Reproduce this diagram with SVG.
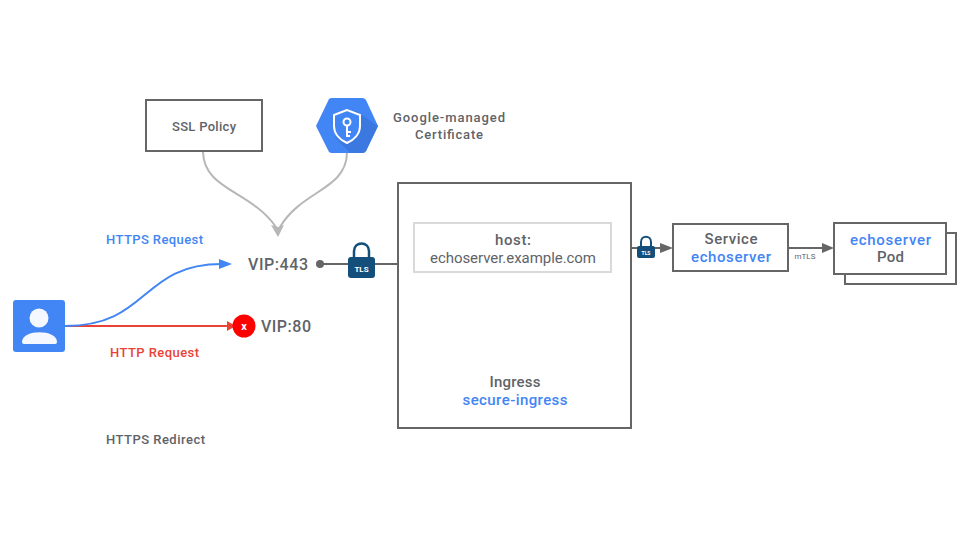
<svg xmlns="http://www.w3.org/2000/svg" width="960" height="540" viewBox="0 0 960 540">
<style>
text{font-family:Roboto,"Liberation Sans",sans-serif;font-weight:500;fill:#5f6368;text-anchor:middle}
.b{fill:#4285f4}.r{fill:#ea4335}
.s{font-size:13px}.m{font-size:15px}.l{font-size:16px}
.box{fill:#fff;stroke:#666;stroke-width:2}
.line{fill:none;stroke:#666;stroke-width:2}
.gray{fill:none;stroke:#b7b7b7;stroke-width:2}
.lock{fill:#134f7a}
.shackle{fill:none;stroke:#134f7a}
.lt{fill:#fff;font-weight:700}
</style>
<rect width="960" height="540" fill="#fff"/>
<g id="connectors">
<path class="gray" d="M203 152C204 190 250 190 276 227"/>
<path class="gray" d="M347 153C346 190 302 190 280 227"/>
<path d="M271 225L278 237L284 225L278 227Z" fill="#b7b7b7"/>
<path d="M65 326L228 326" fill="none" stroke="#ea4335" stroke-width="2"/>
<path d="M227 321L234 325L234 327L227 331Z" fill="#ea4335"/>
<path d="M65 326C150 326 140 264 222 264" fill="none" stroke="#4285f4" stroke-width="2"/>
<path d="M219 259L232 264L219 269Z" fill="#4285f4"/>
<path class="line" d="M320 264L398 264"/>
<circle cx="320" cy="264" r="4" fill="#666"/>
<path class="line" d="M631 248L663 248"/>
<path d="M660 243L673 248L660 253Z" fill="#666"/>
<path class="line" d="M789 248L825 248"/>
<path d="M822 243L834 248L822 253Z" fill="#666"/>
</g>
<g id="ssl-policy"><rect class="box" x="146" y="100" width="116" height="51"/><text x="204" y="131" class="s" textLength="64">SSL Policy</text></g>
<g id="certificate">
<path d="M316 126L329 99Q330 98 332 98H362Q365 98 366 100L378 126L366 151Q365 153 362 153H332Q330 153 329 152Z" fill="#4285f4"/>
<path d="M356 111L378 126L366 151Q365 153 362 153H350L335 137Z" fill="#3b78e0"/>
<path d="M347 110L334 115V126C334 134 340 140 347 143C354 140 360 134 360 126V115Z" fill="#4285f4" stroke="#fff" stroke-width="2"/>
<circle cx="347" cy="122" r="3.500" fill="none" stroke="#fff" stroke-width="2"/>
<path d="M347 125V137M347 132H351M347 136H350" fill="none" stroke="#fff" stroke-width="2"/>
<text x="449" y="122" class="s" textLength="112">Google-managed</text><text x="449" y="139" class="s" textLength="68">Certificate</text>
</g>
<g id="ingress"><rect class="box" x="398" y="183" width="233" height="245"/><text x="515" y="387" class="m" textLength="51">Ingress</text><text x="515" y="405" class="m b" textLength="105">secure-ingress</text></g>
<g id="host"><rect x="414" y="223" width="197" height="49" fill="#fff" stroke="#d9d9d9" stroke-width="2"/><text x="513" y="245" class="m" textLength="36">host:</text><text x="513" y="263" class="m" style="font-weight:400" textLength="166">echoserver.example.com</text></g>
<g id="lock-1"><path class="shackle" stroke-width="2.500" d="M354 258V251C354 241 369 241 369 251V258"/><rect class="lock" x="348" y="257" width="27" height="21" rx="3"/><text class="lt" x="361.500" y="271.500" font-size="8">TLS</text></g>
<g id="lock-2"><path class="shackle" stroke-width="2" d="M641 247V242C641 235 651 235 651 242V247"/><rect class="lock" x="637" y="246" width="18" height="12" rx="2"/><text class="lt" x="646" y="254.500" font-size="5">TLS</text></g>
<g id="service"><rect class="box" x="673" y="224" width="115" height="47"/><text x="731" y="244" class="m" textLength="53">Service</text><text x="731" y="262" class="m b" textLength="80">echoserver</text></g>
<g id="pod"><rect class="box" x="845" y="233" width="111" height="51"/><rect class="box" x="834" y="223" width="112" height="51"/><text x="890.500" y="245" class="m b" textLength="81">echoserver</text><text x="890.500" y="262" class="m" textLength="27">Pod</text></g>
<g id="user">
<rect x="13" y="300" width="52" height="52" rx="3" fill="#4285f4"/>
<circle cx="39" cy="318" r="9.500" fill="#fff" opacity=".95"/>
<path d="M22 342C22 329 57 329 57 342Q57 344 55 344H24Q22 344 22 342Z" fill="#fff" opacity=".95"/>
</g>
<g id="vip-80"><circle cx="244" cy="326" r="11.500" fill="#f00"/><text x="244" y="330" font-size="11" style="fill:#fff;font-weight:700">x</text><text x="286" y="332" class="l" textLength="50">VIP:80</text></g>
<g id="vip-443"><text x="278" y="270" class="l" textLength="60">VIP:443</text></g>
<text x="154.500" y="244" class="s b" textLength="97">HTTPS Request</text>
<text x="154.500" y="357" class="s r" textLength="89">HTTP Request</text>
<text x="155.500" y="444" class="s" textLength="99">HTTPS Redirect</text>
<text x="805" y="259" font-size="8" style="font-weight:400">mTLS</text>
</svg>
